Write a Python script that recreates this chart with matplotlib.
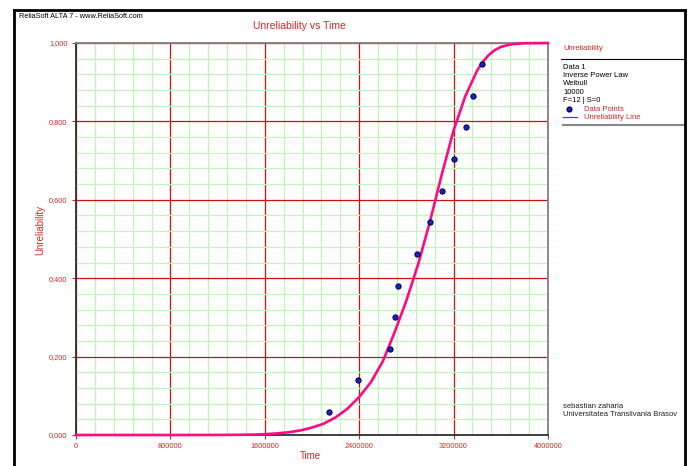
import matplotlib
matplotlib.use('Agg')
import matplotlib.pyplot as plt
from matplotlib.ticker import MultipleLocator, FixedLocator
from matplotlib.lines import Line2D

plt.rcParams['font.family'] = ['Liberation Sans', 'DejaVu Sans']

# ===========================
# data
# ===========================
# data points (median ranks), F=12
pt_time = [2144000, 2387000, 2658000, 2706000, 2731000, 2890000,
           3003000, 3104000, 3203000, 3302000, 3364000, 3438000]
pt_unrel = [0.059, 0.140, 0.219, 0.300, 0.381, 0.462,
            0.543, 0.623, 0.704, 0.785, 0.866, 0.946]

# unreliability line
line_time = [0, 1000000, 1300000, 1500000, 1600000, 1700000, 1800000,
             1900000, 2000000, 2100000, 2200000, 2300000, 2400000,
             2500000, 2600000, 2700000, 2800000, 2900000, 3000000,
             3100000, 3200000, 3300000, 3400000, 3450000, 3500000,
             3550000, 3600000, 3650000, 3700000, 3800000, 4000000]
line_unrel = [0.0, 0.0, 0.0003, 0.001, 0.002, 0.004, 0.007,
              0.0115, 0.019, 0.029, 0.045, 0.067, 0.097,
              0.135, 0.188, 0.262, 0.343, 0.436, 0.545,
              0.665, 0.777, 0.865, 0.930, 0.953, 0.970,
              0.982, 0.990, 0.994, 0.997, 0.9995, 1.0]

x_ticks = [0, 800000, 1600000, 2400000, 3200000, 4000000]
y_ticks = [0.0, 0.2, 0.4, 0.6, 0.8, 1.0]

info_lines = ["Data 1", "Inverse Power Law", "Weibull", "10000", "F=12 | S=0"]
author_lines = ["sebastian zaharia", "Universitatea Transilvania Brasov"]

RED = '#d02828'
PINK = '#ff0a82'
BLUE = '#1424c8'
W, H = 691, 466


def fx(px):
    return px / W


def fy(py):
    return 1 - py / H


fig = plt.figure(figsize=(6.91, 4.66), dpi=100)
ax = fig.add_axes([fx(76), fy(435), 472 / W, 392 / H])

ax.plot(line_time, line_unrel, color=PINK, lw=1.9, zorder=5, clip_on=False,
        solid_joinstyle='round')
ax.plot(pt_time, pt_unrel, 'o', color=BLUE, mec='#000040', mew=0.7,
        markersize=3.8, zorder=6, clip_on=False)

ax.set_xlim(0, 4000000)
ax.set_ylim(0, 1.0)
ax.xaxis.set_major_locator(FixedLocator(x_ticks))
ax.yaxis.set_major_locator(FixedLocator(y_ticks))
ax.xaxis.set_minor_locator(MultipleLocator(160000))
ax.yaxis.set_minor_locator(MultipleLocator(0.04))
ax.set_xticklabels([str(v) for v in x_ticks])
ax.set_yticklabels([f"{v:.3f}".replace('.', ',') for v in y_ticks])

ax.grid(which='minor', color='#c2f5ba', lw=0.9, zorder=1)
ax.grid(which='major', color='#cc1010', lw=0.9, zorder=2)
ax.set_axisbelow(True)
ax.tick_params(which='minor', length=0)
ax.tick_params(which='major', length=3, color=RED, labelcolor=RED,
               labelsize=5.3, pad=3)

for side in ['left', 'bottom']:
    ax.spines[side].set_color('#303030')
    ax.spines[side].set_linewidth(1.3)
for side in ['top', 'right']:
    ax.spines[side].set_color('#808080')
    ax.spines[side].set_linewidth(1.3)

# titles and labels
fig.text(fx(299), fy(26), "Unreliability vs Time", color=RED, fontsize=7.5,
         ha='center', va='center')
fig.text(fx(19), fy(17), "ReliaSoft ALTA 7 - www.ReliaSoft.com", color='black',
         fontsize=5.3, ha='left', va='center')
fig.text(fx(40), fy(230), "Unreliability", color=RED, fontsize=7,
         rotation=90, ha='center', va='center')
fig.text(fx(310), fy(456), "Time", color=RED, fontsize=7,
         ha='center', va='center')

# legend panel
fig.text(fx(563), fy(48), "Unreliability", color=RED, fontsize=5.5,
         ha='left', va='center')
fig.add_artist(Line2D([fx(561), fx(685)], [fy(59), fy(59)], color='black',
                      lw=0.8, transform=fig.transFigure))
for i, s in enumerate(info_lines):
    fig.text(fx(563), fy(67.5 + i * 8.2), s, color='black', fontsize=5.5,
             ha='left', va='center')
fig.add_artist(Line2D([fx(569)], [fy(109)], marker='o', color=BLUE,
                      mec='#000040', markersize=3.4, transform=fig.transFigure))
fig.text(fx(584), fy(109.3), "Data Points", color=RED, fontsize=5.5,
         ha='left', va='center')
fig.add_artist(Line2D([fx(563), fx(577)], [fy(117), fy(117)], color='#4040ff',
                      lw=0.9, transform=fig.transFigure))
fig.text(fx(584), fy(117.3), "Unreliability Line", color=RED, fontsize=5.5,
         ha='left', va='center')
fig.add_artist(Line2D([fx(563), fx(685)], [fy(125), fy(125)], color='#888888',
                      lw=1.5, transform=fig.transFigure))

for i, s in enumerate(author_lines):
    fig.text(fx(563), fy(406 + i * 8.3), s, color='#202020', fontsize=5.5,
             ha='left', va='center')

# outer frame
frame = dict(color='black', lw=2, transform=fig.transFigure)
fig.add_artist(Line2D([fx(14), fx(14)], [fy(10), 0], **frame))
fig.add_artist(Line2D([fx(14), fx(685)], [fy(10), fy(10)], **frame))
fig.add_artist(Line2D([fx(685), fx(685)], [fy(10), 0], **frame))

fig.savefig('out.png', dpi=100)
